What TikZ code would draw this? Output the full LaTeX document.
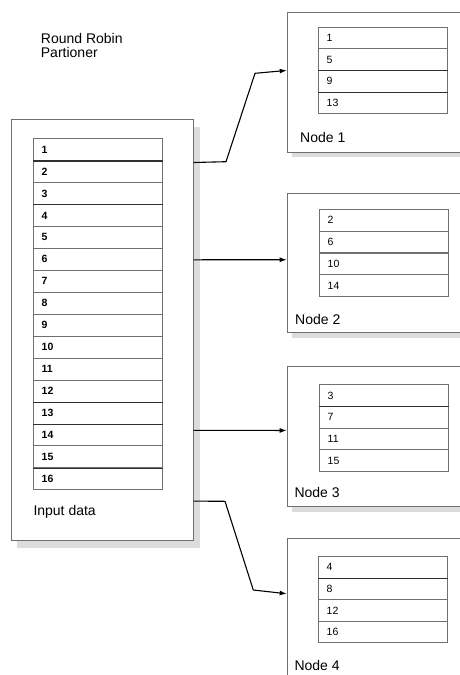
\documentclass[tikz,border=0pt]{standalone}
\usepackage{fontspec}
\setmainfont{Liberation Sans}
\usetikzlibrary{arrows.meta}
\definecolor{edgegray}{HTML}{707070}
\definecolor{shade}{HTML}{DCDCDC}
\definecolor{darkline}{HTML}{303030}
\begin{document}
\begin{tikzpicture}[x=1pt,y=-1pt,
  frame/.style={draw=edgegray, line width=0.9pt, fill=white, anchor=north west, inner sep=0pt},
  shadowbox/.style={fill=shade, draw=none},
  inrow/.style={draw=edgegray, line width=0.8pt, anchor=north west, minimum height=21.94pt,
     text width=112.4pt, inner xsep=8pt, inner ysep=0pt, align=left,
     font=\fontsize{10.5}{12}\selectfont\bfseries},
  outrow/.style={draw=edgegray, line width=0.8pt, anchor=north west, minimum height=21.7pt,
     text width=112.4pt, inner xsep=8pt, inner ysep=0pt, align=left,
     font=\fontsize{10.5}{12}\selectfont},
  strong/.style={draw=darkline, line width=1.1pt},
  lbl/.style={anchor=north west, inner sep=0pt, font=\fontsize{14}{16}\selectfont, align=left},
  conn/.style={draw=black, line width=1.1pt, -{Latex[length=7pt,width=5pt]}}
]
\useasboundingbox (0,0) rectangle (460,675);
\clip (0,0) rectangle (460,675);

% title
\node[lbl] (title) at (40.7,33) {Round Robin\\[-2pt]Partioner};

% input box
\fill[shadowbox] (17,127) rectangle (200,548);
\node[frame, minimum width=182pt, minimum height=420.7pt] (input) at (10.7,119.3) {};
\node[lbl] (inlabel) at (33.3,505) {Input data};

% input rows
\foreach \i in {1,...,16} {
  \node[inrow] (r\i) at (33.3,{138.3+21.94*(\i-1)}) {\i};
}
\foreach \i in {1,3,12,13,15} {
  \draw[strong] (r\i.south west) -- (r\i.south east);
}

% node boxes
\fill[shadowbox] (291.7,17.2) rectangle (600,157.2);
\node[frame, minimum width=300pt, minimum height=140pt] (n1) at (286.7,11.7) {};
\fill[shadowbox] (291.7,198.2) rectangle (600,337.8);
\node[frame, minimum width=300pt, minimum height=139.6pt] (n2) at (286.7,192.7) {};
\fill[shadowbox] (291.7,371.5) rectangle (600,511.5);
\node[frame, minimum width=300pt, minimum height=140pt] (n3) at (286.7,366) {};
\fill[shadowbox] (291.7,543.2) rectangle (600,683.2);
\node[frame, minimum width=300pt, minimum height=140pt] (n4) at (286.7,537.7) {};

\node[lbl] (l1) at (300,132) {Node 1};
\node[lbl] (l2) at (295,314) {Node 2};
\node[lbl] (l3) at (294.3,487) {Node 3};
\node[lbl] (l4) at (294.3,660.5) {Node 4};

% node tables
\foreach \v [count=\k] in {1,5,9,13} {
  \node[outrow] (a\k) at (318.3,{26.7+21.65*(\k-1)}) {\v};
}
\foreach \v [count=\k] in {2,6,10,14} {
  \node[outrow] (b\k) at (319.3,{209+21.75*(\k-1)}) {\v};
}
\foreach \v [count=\k] in {3,7,11,15} {
  \node[outrow] (c\k) at (319.3,{384.3+21.68*(\k-1)}) {\v};
}
\foreach \v [count=\k] in {4,8,12,16} {
  \node[outrow] (d\k) at (318.3,{556+21.58*(\k-1)}) {\v};
}
\draw[strong] (a2.south west) -- (a2.south east);
\draw[strong] (a3.south west) -- (a3.south east);
\draw[strong] (c1.south west) -- (c1.south east);
\draw[strong] (d1.south west) -- (d1.south east);

% connectors
\coordinate (p1) at (226,161.7);
\coordinate (q1) at (255,73.3);
\coordinate (p4) at (225,501.3);
\coordinate (q4) at (253.3,590);
\draw[conn] ([yshift=167.6pt]input.east) -- (p1) -- (q1) -- ([yshift=11.7pt]n1.west);
\draw[conn] ([yshift=70.3pt]input.east) -- ([yshift=3.2pt]n2.west);
\draw[conn] ([yshift=-100.3pt]input.east) -- ([yshift=6pt]n3.west);
\draw[conn] ([yshift=-171pt]input.east) -- (p4) -- (q4) -- ([yshift=14.4pt]n4.west);
\end{tikzpicture}
\end{document}
